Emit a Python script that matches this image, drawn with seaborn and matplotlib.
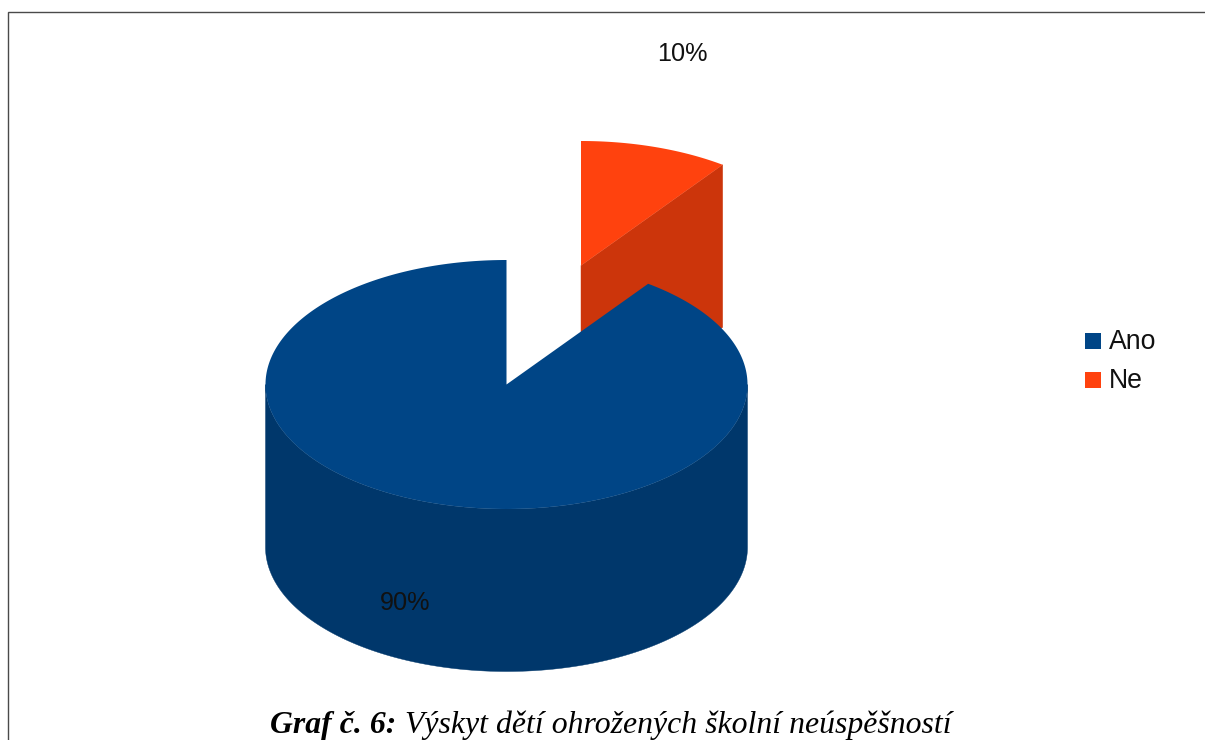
import numpy as np
import matplotlib
matplotlib.use("Agg")
import matplotlib.pyplot as plt
from matplotlib.patches import Polygon, Rectangle
import seaborn as sns

# Survey shares, in percent
categories = ["Ano", "Ne"]
shares = [90, 10]
colors = ["#004586", "#ff420e"]
side_colors = ["#00376b", "#cc350b"]
caption_bold = "Graf č. 6:"
caption_rest = " Výskyt dětí ohrožených školní neúspěšností"

sns.set_theme(style="white")
plt.rcParams["font.family"] = ["Liberation Sans", "DejaVu Sans"]

# Projection of the tilted pie, in pixels
CX, CY = 506.5, 384.5
RX, RY = 241.0, 124.5
DEPTH = 162.5
EXPLODE = (74.5, -119.0)


def rim(a0, a1, dx=0.0, dy=0.0):
    """Points on the elliptical rim between two angles (degrees)."""
    t = np.radians(np.linspace(a0, a1, 300))
    return np.column_stack([CX + dx + RX * np.cos(t), CY + dy - RY * np.sin(t)])


fig = plt.figure(figsize=(12.05, 7.40), dpi=100)
ax = fig.add_axes([0, 0, 1, 1])
ax.set_xlim(0, 1205)
ax.set_ylim(740, 0)
ax.axis("off")

# Page frame, open at the right and bottom edges
ax.plot([7.5, 7.5, 1206], [741, 11.5, 11.5], color="#4a4a4a", lw=1.0, solid_joinstyle="miter")

# Slices run clockwise from twelve o'clock; the last one is pulled out
start_ne = 90 - 360 * shares[1] / sum(shares)
dx, dy = EXPLODE

# Pulled-out slice: cut face first, then the top
apex = np.array([CX + dx, CY + dy])
edge = rim(start_ne, start_ne, dx, dy)[0]
ax.add_patch(Polygon([apex, edge, edge + [0, DEPTH], apex + [0, DEPTH]],
                     fc=side_colors[1], ec=side_colors[1], lw=0.3, zorder=2))
ax.add_patch(Polygon(np.vstack([apex, rim(90, start_ne, dx, dy)]),
                     fc=colors[1], ec="none", zorder=3))

# Main slice: outer wall, then the top with the notch left by the other slice
front = rim(180, 360)
wall = np.vstack([front, front[::-1] + [0, DEPTH]])
ax.add_patch(Polygon(wall, fc=side_colors[0], ec=side_colors[0], lw=0.3, zorder=4))
ax.add_patch(Polygon(np.vstack([[CX, CY], rim(start_ne, -270)]),
                     fc=colors[0], ec="none", zorder=5))

# Percentage labels
ax.text(682, 54, f"{shares[1]}%", fontsize=18.2, ha="center", va="center", color="#111111", zorder=6)
ax.text(405, 603, f"{shares[0]}%", fontsize=18.2, ha="center", va="center", color="#111111", zorder=6)

# Legend
for i, (name, col) in enumerate(zip(categories, colors)):
    y = 341 + 39 * i
    ax.add_patch(Rectangle((1085, y - 8), 16, 16, fc=col, ec="none", zorder=6))
    ax.text(1108.5, y + 1, name, fontsize=19.2, ha="left", va="center", color="#111111", zorder=6)

# Caption set in two styles on one baseline
renderer = fig.canvas.get_renderer()
cap_kw = dict(family="Liberation Serif", style="italic", fontsize=22.9, color="black",
              va="baseline", ha="left", zorder=6)
bold = ax.text(270, 732.5, caption_bold, fontweight="bold", **cap_kw)
bold_w = bold.get_window_extent(renderer).width
ax.text(270 + bold_w + 1, 732.5, caption_rest, **cap_kw)

fig.savefig("out.png", dpi=100, facecolor="white")
